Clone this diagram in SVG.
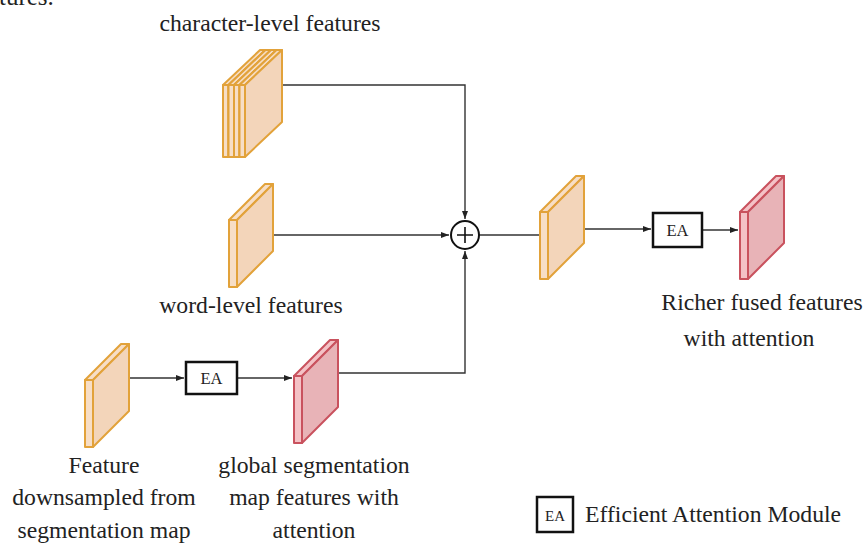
<svg xmlns="http://www.w3.org/2000/svg" width="865" height="545" viewBox="0 0 865 545">
<style>
  text { font-family: "Liberation Serif", "Times New Roman", serif; fill: #222; }
  .lbl { font-size: 23.7px; }
  .ea { font-size: 16.5px; }
  .o { stroke: #E2A23A; stroke-width: 2; stroke-linejoin: round; }
  .of { fill: #F7DEC6; }
  .os { fill: #F3D5BA; }
  .r { stroke: #C9525E; stroke-width: 2; stroke-linejoin: round; }
  .rf { fill: #F4C2C6; }
  .rs { fill: #E8B3B7; }
  .conn { fill: none; stroke: #333; stroke-width: 1.4; }
  .box { fill: #fff; stroke: #111; stroke-width: 2.5; }
</style>
<defs>
  <marker id="arr" viewBox="0 0 8 6" refX="8" refY="3" markerWidth="8" markerHeight="6" markerUnits="userSpaceOnUse" orient="auto">
    <path d="M0,0 L8,3 L0,6 Z" fill="#222"/>
  </marker>
  <g id="slabO" class="o">
    <polygon class="of" points="0,0 36,-36 44,-36 8,0"/>
    <rect class="of" x="0" y="0" width="8" height="67"/>
    <polygon class="os" points="8,0 44,-36 44,31 8,67"/>
  </g>
  <g id="slabR" class="r">
    <polygon class="rf" points="0,0 36,-36 44,-36 8,0"/>
    <rect class="rf" x="0" y="0" width="8" height="67"/>
    <polygon class="rs" points="8,0 44,-36 44,31 8,67"/>
  </g>
  <g id="thinO" class="o">
    <polygon class="of" points="0,0 37,-35 42.5,-35 5.5,0"/>
    <rect class="of" x="0" y="0" width="5.5" height="72"/>
    <polygon class="os" points="5.5,0 42.5,-35 42.5,37 5.5,72"/>
  </g>
</defs>

<text x="-1" y="5" style="font-size:25px">tures.</text>

<g id="connectors">
  <path class="conn" d="M282,85 H465 V219" marker-end="url(#arr)"/>
  <path class="conn" d="M273,235 H449" marker-end="url(#arr)"/>
  <path class="conn" d="M338,373 H465 V251" marker-end="url(#arr)"/>
  <path class="conn" d="M479,235 H540"/>
  <path class="conn" d="M584,229 H651" marker-end="url(#arr)"/>
  <path class="conn" d="M702,230 H738" marker-end="url(#arr)"/>
  <path class="conn" d="M129,378 H184" marker-end="url(#arr)"/>
  <path class="conn" d="M237,378 H292" marker-end="url(#arr)"/>
</g>

<g id="char-features">
  <use href="#thinO" transform="translate(223,85)"/>
  <use href="#thinO" transform="translate(228.5,85)"/>
  <use href="#thinO" transform="translate(234,85)"/>
  <use href="#thinO" transform="translate(239.5,85)"/>
  <text class="lbl" x="270" y="31" text-anchor="middle">character-level features</text>
</g>

<g id="word-features">
  <use href="#slabO" transform="translate(229,220)"/>
  <text class="lbl" x="251" y="313" text-anchor="middle">word-level features</text>
</g>

<g id="downsampled-feature">
  <use href="#slabO" transform="translate(85,380)"/>
  <text class="lbl" x="104" y="473" text-anchor="middle">Feature</text>
  <text class="lbl" x="104" y="505" text-anchor="middle">downsampled from</text>
  <text class="lbl" x="104" y="538" text-anchor="middle">segmentation map</text>
</g>

<g id="ea-1">
  <rect class="box" x="186" y="362" width="51" height="32"/>
  <text class="ea" x="211.5" y="384" text-anchor="middle">EA</text>
</g>

<g id="seg-attention">
  <use href="#slabR" transform="translate(294,376)"/>
  <text class="lbl" x="314" y="473" text-anchor="middle">global segmentation</text>
  <text class="lbl" x="314" y="505" text-anchor="middle">map features with</text>
  <text class="lbl" x="314" y="538" text-anchor="middle">attention</text>
</g>

<g id="sum">
  <circle cx="465" cy="235" r="14" fill="#fff" stroke="#111" stroke-width="2"/>
  <path d="M457,235 H473 M465,227 V243" stroke="#111" stroke-width="1.6" fill="none"/>
</g>

<g id="fused">
  <use href="#slabO" transform="translate(540,212)"/>
</g>

<g id="ea-2">
  <rect class="box" x="653" y="213" width="49" height="34"/>
  <text class="ea" x="677.5" y="236" text-anchor="middle">EA</text>
</g>

<g id="richer">
  <use href="#slabR" transform="translate(740,212)"/>
  <text class="lbl" x="762" y="310" text-anchor="middle">Richer fused features</text>
  <text class="lbl" x="749" y="346" text-anchor="middle">with attention</text>
</g>

<g id="legend">
  <rect class="box" x="537" y="497" width="36" height="35" stroke-width="2"/>
  <text class="ea" x="555" y="521" text-anchor="middle" style="font-size:15px">EA</text>
  <text class="lbl" x="585" y="522">Efficient Attention Module</text>
</g>
</svg>
